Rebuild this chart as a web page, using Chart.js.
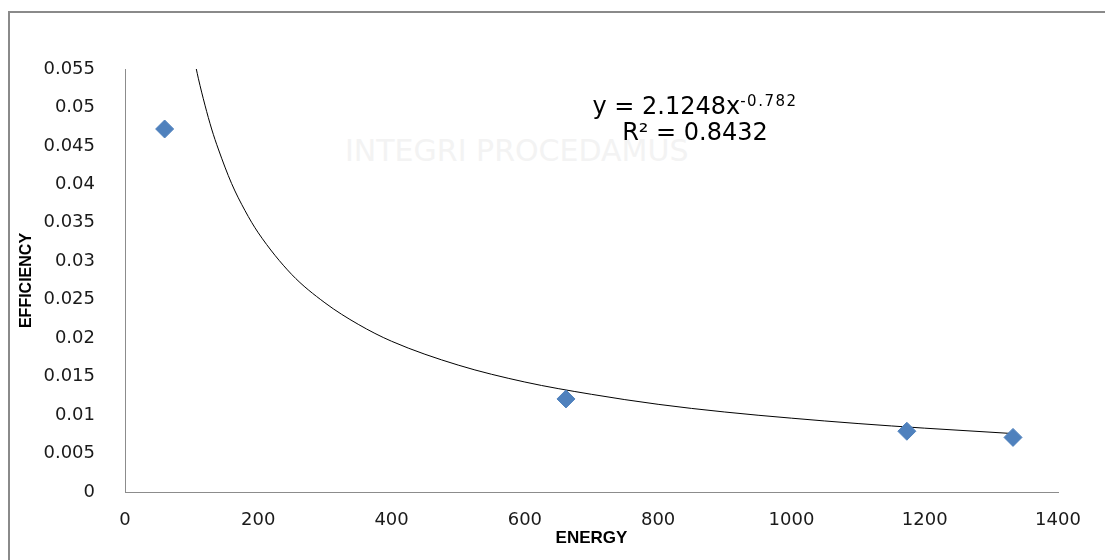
<!DOCTYPE html>
<html>
<head>
<meta charset="utf-8">
<title>Efficiency vs Energy</title>
<script src="https://cdn.jsdelivr.net/npm/chart.js@4.4.0/dist/chart.umd.min.js"></script>
<style>
    html, body { margin: 0; padding: 0; background: #ffffff; overflow: hidden; }
    #wrap { position: relative; width: 1105px; height: 560px; overflow: hidden; }
    #marco { position: absolute; left: 8px; top: 11px; width: 1200px; height: 700px; border-top: 2px solid #8a8a8a; border-left: 2px solid #8a8a8a; z-index: 0; }
    #grafico { position: absolute; left: 0; top: 0; z-index: 2; }
    #marca { position: absolute; left: 345px; top: 133px; z-index: 1; font-family: "DejaVu Sans", sans-serif; font-size: 30px; color: #f3f3f3; white-space: nowrap; }
    #ecuacion { position: absolute; left: 545px; top: 93px; width: 300px; z-index: 3; text-align: center; font-family: "DejaVu Sans", sans-serif; font-size: 24px; line-height: 26px; color: #000000; }
    #ecuacion sup { font-size: 15px; line-height: 0; vertical-align: 8px; letter-spacing: 1.5px; }
</style>
</head>
<body>
<div id="wrap">
    <div id="marco"></div>
    <div id="marca">INTEGRI PROCEDAMUS</div>
    <canvas id="grafico" width="1105" height="560"></canvas>
    <div id="ecuacion">y = 2.1248x<sup>-0.782</sup><br>R² = 0.8432</div>
</div>
<script>
// puntos medidos
var energia = [59.5, 661.7, 1173.2, 1332.5];
var eficiencia = [0.0472, 0.0121, 0.0079, 0.0071];

// linea de tendencia
var tendX = [107, 110, 120, 130, 140, 160, 180, 200, 250, 300, 350, 400, 500, 600, 700, 800, 900, 1000, 1100, 1200, 1332];
var tendY = [0.0550, 0.0538, 0.0503, 0.0472, 0.0446, 0.0401, 0.0366, 0.0337, 0.0283, 0.0246, 0.0218, 0.0196, 0.0165, 0.0143, 0.0127, 0.0114, 0.0104, 0.0096, 0.0089, 0.0083, 0.0076];

var xTicks = [0, 200, 400, 600, 800, 1000, 1200, 1400];
var yTicks = [0, 0.005, 0.01, 0.015, 0.02, 0.025, 0.03, 0.035, 0.04, 0.045, 0.05, 0.055];

var puntos = [];
for (var i in energia) {
    puntos.push({ x: energia[i], y: eficiencia[i] });
}
var curva = [];
for (var j in tendX) {
    curva.push({ x: tendX[j], y: tendY[j] });
}

var fuente = { family: '"DejaVu Sans", sans-serif', size: 18 };

var grafico = new Chart(document.getElementById('grafico'), {
    type: 'scatter',
    data: {
        datasets: [
            {
                label: 'Tendencia',
                data: curva,
                showLine: true,
                borderColor: '#000000',
                borderWidth: 1,
                pointRadius: 0,
                cubicInterpolationMode: 'monotone',
                order: 2
            },
            {
                label: 'Eficiencia',
                data: puntos,
                pointStyle: 'rectRot',
                pointRadius: 9,
                backgroundColor: '#4f81bd',
                borderColor: '#4f81bd',
                borderWidth: 1,
                order: 1
            }
        ]
    },
    options: {
        responsive: false,
        animation: false,
        layout: { padding: { left: 0, top: 69, right: 47, bottom: 0 } },
        plugins: {
            legend: { display: false },
            tooltip: { enabled: false }
        },
        scales: {
            x: {
                type: 'linear',
                min: 0,
                max: 1400,
                grid: { display: false },
                border: { display: true, color: '#8c8c8c', width: 1 },
                ticks: {
                    color: '#1a1a1a',
                    font: fuente,
                    padding: 10,
                    maxRotation: 0,
                    callback: function (v) { return String(v); }
                },
                afterBuildTicks: function (scale) {
                    scale.ticks = xTicks.map(function (v) { return { value: v }; });
                },
                afterFit: function (scale) { scale.height = 68; },
                title: {
                    display: true,
                    text: 'ENERGY',
                    color: '#000000',
                    font: { family: '"Liberation Sans", sans-serif', size: 17, weight: 'bold' },
                    padding: { top: 0, bottom: 11 }
                }
            },
            y: {
                type: 'linear',
                min: 0,
                max: 0.055,
                grid: { display: false },
                border: { display: true, color: '#8c8c8c', width: 1 },
                ticks: {
                    color: '#1a1a1a',
                    font: fuente,
                    padding: 22,
                    callback: function (v) { return parseFloat(v.toFixed(3)).toString(); }
                },
                afterBuildTicks: function (scale) {
                    scale.ticks = yTicks.map(function (v) { return { value: v }; });
                },
                afterFit: function (scale) { scale.width = 125; },
                title: {
                    display: true,
                    text: 'EFFICIENCY',
                    color: '#000000',
                    font: { family: '"Liberation Sans", sans-serif', size: 16, weight: 'bold' },
                    padding: { top: 17, bottom: 0 }
                }
            }
        }
    }
});
</script>
</body>
</html>
